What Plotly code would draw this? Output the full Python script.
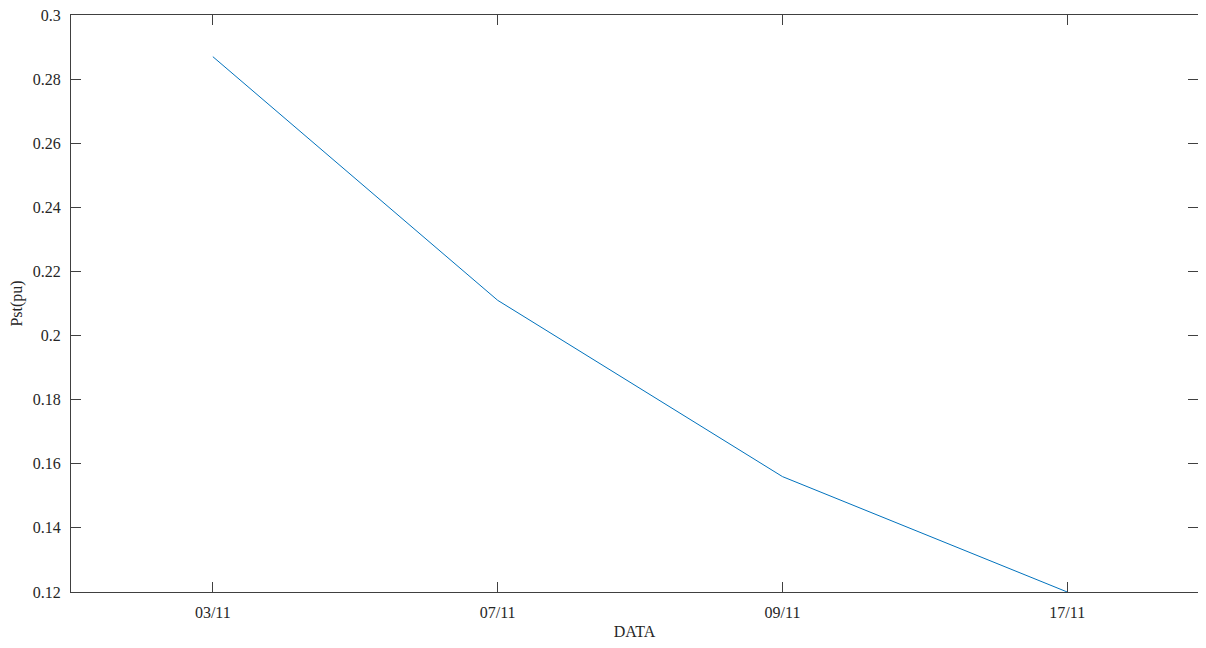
import plotly.graph_objects as go

dates = ["03/11", "07/11", "09/11", "17/11"]
pst = [0.287, 0.211, 0.156, 0.120]
y_ticks = [0.12, 0.14, 0.16, 0.18, 0.2, 0.22, 0.24, 0.26, 0.28, 0.3]
y_tick_text = ["0.12", "0.14", "0.16", "0.18", "0.2", "0.22", "0.24", "0.26", "0.28", "0.3"]

FONT = "Liberation Serif"
AX = "#404040"
TXT = "#262626"

fig = go.Figure()
fig.add_trace(go.Scatter(
    x=list(range(len(dates))), y=pst, mode="lines",
    line=dict(color="#0072BD", width=1), showlegend=False, hoverinfo="skip",
))

# page body has an 8px default margin; size the figure to fit inside it
fig.update_layout(
    width=1190, height=632,
    margin=dict(l=63, r=0, t=7, b=48),
    paper_bgcolor="white", plot_bgcolor="white",
    font=dict(family=FONT, size=16, color=TXT),
    xaxis=dict(
        range=[-0.498, 3.459], tickmode="array", tickvals=list(range(len(dates))),
        ticktext=dates, ticks="inside", ticklen=10, tickcolor=AX, tickwidth=1,
        showline=True, linecolor=AX, linewidth=1, mirror="ticks",
        showgrid=False, zeroline=False, automargin=False,
        tickfont=dict(family=FONT, size=16, color=TXT),
        title=dict(text="DATA", standoff=13, font=dict(family=FONT, size=16, color=TXT)),
        ticklabelstandoff=6, ticklabeloverflow="allow",
    ),
    yaxis=dict(
        range=[0.12, 0.3], tickmode="array", tickvals=y_ticks, ticktext=y_tick_text,
        ticks="inside", ticklen=10, tickcolor=AX, tickwidth=1,
        showline=True, linecolor=AX, linewidth=1, mirror=False,
        showgrid=False, zeroline=False, automargin=False,
        tickfont=dict(family=FONT, size=16, color=TXT),
        title=dict(text="Pst(pu)", standoff=8, font=dict(family=FONT, size=16, color=TXT)),
        ticklabelstandoff=6, ticklabeloverflow="allow",
    ),
    yaxis2=dict(
        range=[0.12, 0.3], overlaying="y", side="right", tickmode="array",
        tickvals=y_ticks, ticks="inside", ticklen=10, tickcolor=AX, tickwidth=1,
        showticklabels=False, showline=False, linecolor="white", linewidth=0,
        showgrid=False, zeroline=False, automargin=False,
    ),
)
fig.add_trace(go.Scatter(x=[None], y=[None], yaxis="y2", showlegend=False, hoverinfo="skip"))

fig.write_html("out.html")
